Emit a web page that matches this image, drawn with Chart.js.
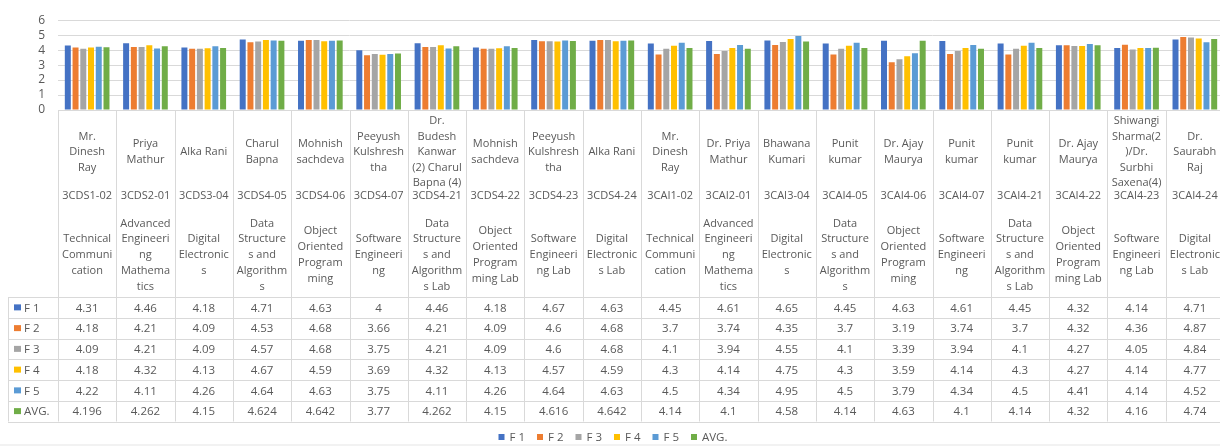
<!DOCTYPE html>
<html>
<head>
<meta charset="utf-8">
<script src="https://cdn.jsdelivr.net/npm/chart.js@4.4.1/dist/chart.umd.min.js"></script>
<style>
  html, body { margin: 0; padding: 0; background: #fff; overflow: hidden; }
  #wrap { width: 1224px; height: 446px; position: relative; }
  #strip { position: absolute; left: 0; top: 444px; width: 1220px; height: 2px; background: #f2f2f2; }
</style>
</head>
<body>
<div id="wrap"><canvas id="chart" width="1224" height="446"></canvas><div id="strip"></div></div>
<script>
/* global Chart */
const teachers = [
  ['Mr.', 'Dinesh', 'Ray'], ['Priya', 'Mathur'], ['Alka Rani'], ['Charul', 'Bapna'],
  ['Mohnish', 'sachdeva'], ['Peeyush', 'Kulshresh', 'tha'],
  ['Dr.', 'Budesh', 'Kanwar', '(2) Charul', 'Bapna (4)'], ['Mohnish', 'sachdeva'],
  ['Peeyush', 'Kulshresh', 'tha'], ['Alka Rani'], ['Mr.', 'Dinesh', 'Ray'],
  ['Dr. Priya', 'Mathur'], ['Bhawana', 'Kumari'], ['Punit', 'kumar'], ['Dr. Ajay', 'Maurya'],
  ['Punit', 'kumar'], ['Punit', 'kumar'], ['Dr. Ajay', 'Maurya'],
  ['Shiwangi', 'Sharma(2', ')/Dr.', 'Surbhi', 'Saxena(4)'], ['Dr.', 'Saurabh', 'Raj']
];
const codes = [
  '3CDS1-02', '3CDS2-01', '3CDS3-04', '3CDS4-05', '3CDS4-06', '3CDS4-07', '3CDS4-21',
  '3CDS4-22', '3CDS4-23', '3CDS4-24', '3CAI1-02', '3CAI2-01', '3CAI3-04', '3CAI4-05',
  '3CAI4-06', '3CAI4-07', '3CAI4-21', '3CAI4-22', '3CAI4-23', '3CAI4-24'
];
const subjects = [
  ['Technical', 'Communi', 'cation'], ['Advanced', 'Engineeri', 'ng', 'Mathema', 'tics'],
  ['Digital', 'Electronic', 's'], ['Data', 'Structure', 's and', 'Algorithm', 's'],
  ['Object', 'Oriented', 'Program', 'ming'], ['Software', 'Engineeri', 'ng'],
  ['Data', 'Structure', 's and', 'Algorithm', 's Lab'], ['Object', 'Oriented', 'Program', 'ming Lab'],
  ['Software', 'Engineeri', 'ng Lab'], ['Digital', 'Electronic', 's Lab'],
  ['Technical', 'Communi', 'cation'], ['Advanced', 'Engineeri', 'ng', 'Mathema', 'tics'],
  ['Digital', 'Electronic', 's'], ['Data', 'Structure', 's and', 'Algorithm', 's'],
  ['Object', 'Oriented', 'Program', 'ming'], ['Software', 'Engineeri', 'ng'],
  ['Data', 'Structure', 's and', 'Algorithm', 's Lab'], ['Object', 'Oriented', 'Program', 'ming Lab'],
  ['Software', 'Engineeri', 'ng Lab'], ['Digital', 'Electronic', 's Lab']
];

const seriesNames = ['F 1', 'F 2', 'F 3', 'F 4', 'F 5', 'AVG.'];
const seriesColors = ['#4472C4', '#ED7D31', '#A5A5A5', '#FFC000', '#5B9BD5', '#70AD47'];

const f1 = [4.31, 4.46, 4.18, 4.71, 4.63, 4, 4.46, 4.18, 4.67, 4.63, 4.45, 4.61, 4.65, 4.45, 4.63, 4.61, 4.45, 4.32, 4.14, 4.71];
const f2 = [4.18, 4.21, 4.09, 4.53, 4.68, 3.66, 4.21, 4.09, 4.6, 4.68, 3.7, 3.74, 4.35, 3.7, 3.19, 3.74, 3.7, 4.32, 4.36, 4.87];
const f3 = [4.09, 4.21, 4.09, 4.57, 4.68, 3.75, 4.21, 4.09, 4.6, 4.68, 4.1, 3.94, 4.55, 4.1, 3.39, 3.94, 4.1, 4.27, 4.05, 4.84];
const f4 = [4.18, 4.32, 4.13, 4.67, 4.59, 3.69, 4.32, 4.13, 4.57, 4.59, 4.3, 4.14, 4.75, 4.3, 3.59, 4.14, 4.3, 4.27, 4.14, 4.77];
const f5 = [4.22, 4.11, 4.26, 4.64, 4.63, 3.75, 4.11, 4.26, 4.64, 4.63, 4.5, 4.34, 4.95, 4.5, 3.79, 4.34, 4.5, 4.41, 4.14, 4.52];
const avg = [4.196, 4.262, 4.15, 4.624, 4.642, 3.77, 4.262, 4.15, 4.616, 4.642, 4.14, 4.1, 4.58, 4.14, 4.63, 4.1, 4.14, 4.32, 4.16, 4.74];
const seriesValues = [f1, f2, f3, f4, f5, avg];

const FONT = '"Open Sans", "Liberation Sans", sans-serif';
const TEXT = '#595959';
const LINE = '#d9d9d9';

// data table + legend under the plot, laid out on the x scale columns
const dataTable = {
  id: 'dataTable',
  afterDraw(chart) {
    const { ctx, chartArea } = chart;
    const x = chart.scales.x;
    const n = codes.length;
    const colW = x.width / n;
    const top = chartArea.bottom;
    const headBottom = 297;
    const rowH = 20.75;
    const tableBottom = headBottom + rowH * seriesNames.length;
    const tableLeft = 8;

    ctx.save();
    ctx.strokeStyle = LINE;
    ctx.lineWidth = 1;
    ctx.beginPath();
    for (let k = 0; k <= n; k++) {
      const px = Math.round(x.left + k * colW) + 0.5;
      ctx.moveTo(px, top);
      ctx.lineTo(px, tableBottom);
    }
    ctx.moveTo(tableLeft + 0.5, headBottom);
    ctx.lineTo(tableLeft + 0.5, tableBottom);
    for (let r = 0; r <= seriesNames.length; r++) {
      const py = Math.round(headBottom + r * rowH) + 0.5;
      ctx.moveTo(tableLeft, py);
      ctx.lineTo(x.right, py);
    }
    ctx.stroke();

    ctx.fillStyle = TEXT;
    ctx.font = '11px ' + FONT;
    ctx.textAlign = 'center';
    ctx.textBaseline = 'middle';

    const block = (lines, cx, cy, lh) => {
      const y0 = cy - (lines.length - 1) * lh / 2;
      lines.forEach((t, j) => ctx.fillText(t, cx, y0 + j * lh));
    };

    for (let i = 0; i < n; i++) {
      const cx = x.getPixelForValue(i);
      ctx.font = '11px ' + FONT;
      block(teachers[i], cx, 152, 15.6);
      ctx.fillText(codes[i], cx, 196);
      block(subjects[i], cx, 255, 15.8);
      ctx.font = '11.5px ' + FONT;
      seriesValues.forEach((vals, r) => {
        ctx.fillText(String(vals[i]), cx, headBottom + rowH * (r + 0.5) + 1);
      });
    }

    // row headers
    ctx.textAlign = 'left';
    ctx.font = '11.5px ' + FONT;
    seriesNames.forEach((name, r) => {
      const cy = headBottom + rowH * (r + 0.5);
      ctx.fillStyle = seriesColors[r];
      ctx.fillRect(14, cy - 3, 7, 6);
      ctx.fillStyle = TEXT;
      ctx.fillText(name, 24, cy + 1);
    });

    // legend
    const gap = 12, box = 6, boxGap = 5;
    const widths = seriesNames.map(s => box + boxGap + ctx.measureText(s).width);
    const total = widths.reduce((a, b) => a + b, 0) + gap * (widths.length - 1);
    let lx = 613 - total / 2;
    const ly = 437;
    seriesNames.forEach((name, r) => {
      ctx.fillStyle = seriesColors[r];
      ctx.fillRect(lx, ly - 3, box, box);
      ctx.fillStyle = TEXT;
      ctx.fillText(name, lx + box + boxGap, ly + 1);
      lx += widths[r] + gap;
    });
    ctx.restore();
  }
};

new Chart(document.getElementById('chart'), {
  type: 'bar',
  data: {
    labels: codes,
    datasets: seriesNames.map((name, i) => ({
      label: name,
      data: seriesValues[i],
      backgroundColor: seriesColors[i],
      borderWidth: 0,
      categoryPercentage: 0.796,
      barPercentage: 0.775
    }))
  },
  options: {
    responsive: false,
    devicePixelRatio: 1,
    animation: false,
    layout: { padding: { top: 18, bottom: 336, left: 0, right: 0 } },
    plugins: { legend: { display: false }, tooltip: { enabled: false } },
    scales: {
      x: { display: false },
      y: {
        min: 0,
        max: 6,
        ticks: { stepSize: 1, autoSkip: false, color: TEXT, padding: 13, font: { family: FONT, size: 12 } },
        grid: { color: LINE, drawTicks: false },
        border: { display: false },
        afterFit(scale) { scale.width = 58; }
      }
    }
  },
  plugins: [dataTable]
});
</script>
</body>
</html>
